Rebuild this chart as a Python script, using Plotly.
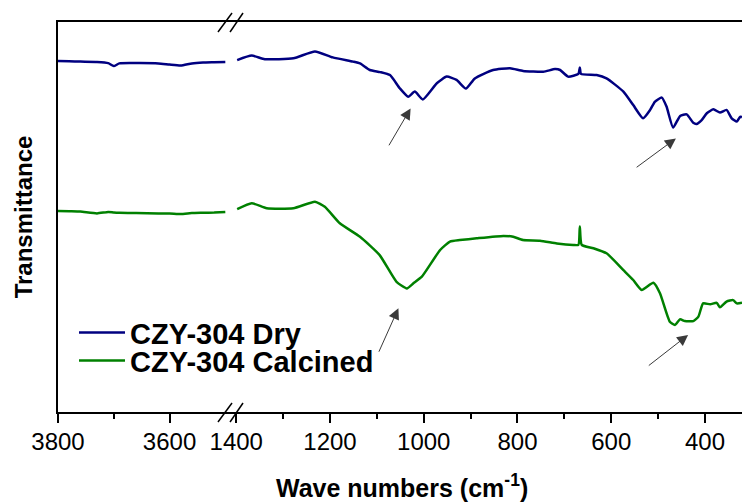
import plotly.graph_objects as go

# ---------------- data (arbitrary transmittance units) -------------
# high-wavenumber window (3800-3500 cm-1)
wn_high = [3800, 3780, 3760, 3730, 3710, 3700, 3690, 3660, 3620, 3600, 3580, 3560, 3540, 3520, 3500]
dry_high = [117.0, 116.9, 116.8, 116.7, 116.3, 115.3, 116.2, 116.3, 116.2, 115.8, 115.5, 116.2, 116.5, 116.6, 116.7]
cal_high = [67.0, 66.9, 66.8, 66.2, 66.7, 66.5, 66.4, 66.3, 66.2, 66.2, 66.0, 66.3, 66.4, 66.5, 66.7]

# low-wavenumber window (1400-320 cm-1)
wn_dry = [1398, 1367, 1339, 1278, 1232, 1194, 1151, 1136, 1115, 1093, 1072, 1051, 1033, 1019,
          1002, 972, 951, 930, 910, 891, 852, 816, 788, 745, 720, 709, 692, 670, 667, 664.5,
          631, 610, 574, 553, 532, 517, 507, 492, 482, 468, 453, 439, 425, 418, 407, 396,
          382, 368, 354, 343, 332, 325, 321]
dry_low = [117.3, 118.8, 117.6, 117.9, 120.2, 118.2, 116.8, 116.2, 114.0, 113.3, 112.3, 107.9, 105.1, 106.8,
           104.2, 109.6, 111.8, 110.7, 107.8, 111.2, 114.0, 114.6, 113.7, 113.4, 114.3, 114.0, 111.8, 112.7, 114.8, 112.7,
           112.3, 111.2, 106.8, 102.3, 97.9, 100.7, 103.4, 104.8, 101.8, 94.8, 98.7, 99.2, 96.4, 96.0, 97.3, 99.6,
           100.9, 99.8, 100.7, 97.9, 96.8, 98.4, 98.3]

wn_cal = [1398, 1367, 1335, 1278, 1232, 1211, 1179, 1136, 1094, 1058, 1036, 1022, 1004, 965,
          944, 923, 887, 830, 809, 788, 752, 716, 681, 670, 667, 663, 638, 610, 574, 553,
          535, 510, 496, 475, 464, 453, 443, 425, 414, 404, 389, 375, 368, 354, 340, 332, 321]
cal_low = [67.6, 69.6, 67.9, 67.9, 70.1, 68.4, 62.9, 58.4, 52.3, 43.4, 41.2, 42.9, 45.1, 54.0,
           56.8, 57.3, 57.9, 58.7, 58.4, 57.3, 57.1, 56.2, 55.7, 55.7, 61.8, 55.7, 54.6, 52.9, 47.3, 44.0,
           40.7, 43.1, 39.6, 30.1, 29.0, 30.9, 30.3, 30.3, 31.8, 36.2, 35.9, 36.4, 34.9, 36.8, 37.3, 36.2, 36.4]

series_names = ["CZY-304 Dry", "CZY-304 Calcined"]
series_colors = ["#000080", "#008000"]

# arrows marking bands: (head wn, head T, tail wn, tail T)
arrow_head_wn = [1028, 462, 1054, 436]
arrow_head_t = [101.2, 91.2, 34.6, 25.7]
arrow_tail_wn = [1076, 549, 1097, 523]
arrow_tail_t = [88.4, 81.2, 19.6, 15.1]

high_ticks = [3800, 3600]
high_minor = [3700]
low_ticks = [1400, 1200, 1000, 800, 600, 400]
low_minor = [1300, 1100, 900, 700, 500]

FONT = "Liberation Sans, Arial, Helvetica, sans-serif"

fig = go.Figure()

line_style = dict(width=2.5, shape="spline", smoothing=0.5)

# high window traces
for vals, col in zip([dry_high, cal_high], series_colors):
    fig.add_trace(go.Scatter(x=wn_high, y=vals, mode="lines", xaxis="x", yaxis="y",
                             line=dict(color=col, **line_style), showlegend=False, hoverinfo="skip"))

# low window traces (with legends)
fig.add_trace(go.Scatter(x=wn_dry, y=dry_low, mode="lines", xaxis="x2", yaxis="y",
                         line=dict(color=series_colors[0], **line_style), name=series_names[0],
                         legend="legend"))
fig.add_trace(go.Scatter(x=wn_cal, y=cal_low, mode="lines", xaxis="x2", yaxis="y",
                         line=dict(color=series_colors[1], **line_style), name=series_names[1],
                         legend="legend2"))

# arrows
for hx, hy, tx, ty in zip(arrow_head_wn, arrow_head_t, arrow_tail_wn, arrow_tail_t):
    fig.add_annotation(x=hx, y=hy, ax=tx, ay=ty, xref="x2", yref="y", axref="x2", ayref="y",
                       text="", showarrow=True, arrowhead=2, arrowsize=2.2, arrowwidth=1,
                       arrowcolor="#3a3a3a")

# x-axis title (spans both windows)
fig.add_annotation(x=0.503, y=-0.19, xref="paper", yref="paper", xanchor="center", yanchor="middle",
                   text="<b>Wave numbers (cm<sup>-1</sup>)</b>", showarrow=False,
                   font=dict(family=FONT, size=25, color="black"))

# axis-break marks
brk = dict(type="line", xref="paper", yref="paper", line=dict(color="black", width=1.5))
for (x0, x1) in [(0.2339, 0.2544), (0.2515, 0.2705)]:
    fig.add_shape(x0=x0, x1=x1, y0=0.9744, y1=1.0231, **brk)
    fig.add_shape(x0=x0, x1=x1, y0=-0.0256, y1=0.0231, **brk)

axis_common = dict(showline=True, linecolor="black", linewidth=1.5, mirror=True,
                   ticks="outside", ticklen=9, tickwidth=1.5, tickcolor="black",
                   showgrid=False, zeroline=False, anchor="y",
                   tickfont=dict(family=FONT, size=24, color="black"),
                   ticklabelstandoff=-2)

fig.update_layout(
    width=742, height=502,
    margin=dict(l=58, r=0, t=22, b=90),
    paper_bgcolor="white", plot_bgcolor="white",
    font=dict(family=FONT, color="black"),
    xaxis=dict(domain=[0, 0.2544], range=[3800, 3488], tickvals=high_ticks,
               minor=dict(tickvals=high_minor, ticks="outside", ticklen=5, tickwidth=1.5, tickcolor="black"),
               **axis_common),
    xaxis2=dict(domain=[0.2544, 1], range=[1409, 321], tickvals=low_ticks,
                minor=dict(tickvals=low_minor, ticks="outside", ticklen=5, tickwidth=1.5, tickcolor="black"),
                **axis_common),
    yaxis=dict(range=[0, 130], showline=True, linecolor="black", linewidth=1.5,
               showticklabels=False, ticks="", showgrid=False, zeroline=False,
               title=dict(text="<b>Transmittance</b>", font=dict(family=FONT, size=24, color="black"),
                          standoff=17)),
    legend=dict(x=(74 - 58) / 684, y=(412 - 332.7) / 390, xanchor="left", yanchor="middle",
                bgcolor="rgba(0,0,0,0)", itemwidth=46, borderwidth=0,
                font=dict(family=FONT, size=29, color="black", weight="bold")),
    legend2=dict(x=(74 - 58) / 684, y=(412 - 360.7) / 390, xanchor="left", yanchor="middle",
                 bgcolor="rgba(0,0,0,0)", itemwidth=46, borderwidth=0,
                 font=dict(family=FONT, size=29, color="black", weight="bold")),
)

fig.write_html("out.html")
